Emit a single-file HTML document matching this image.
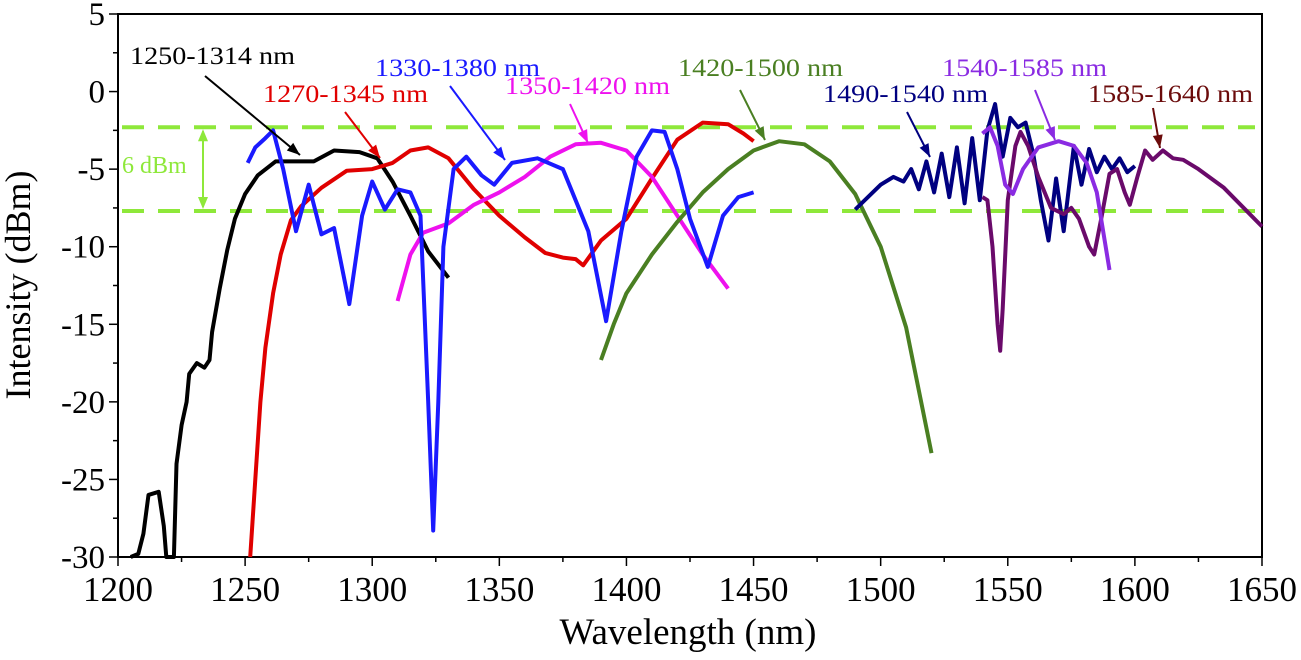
<!DOCTYPE html>
<html><head><meta charset="utf-8"><style>
body{margin:0;background:#fff}
svg text{font-family:"Liberation Serif",serif}
</style></head><body>
<svg id="chart" width="1301" height="655" viewBox="0 0 1301 655" xmlns="http://www.w3.org/2000/svg">
<g id="axes"></g>
<g id="series"></g>
<g id="annot"></g>
</svg>
<script>
const xTicks=[1200,1250,1300,1350,1400,1450,1500,1550,1600,1650];
const yTicks=[5,0,-5,-10,-15,-20,-25,-30];
const blackS=[[1205,-30],[1208,-29.8],[1210,-28.5],[1212,-26],[1216,-25.8],[1218,-28],[1219,-30],[1222,-30],[1223,-24],[1225,-21.5],[1227,-20],[1228,-18.2],[1231,-17.5],[1234,-17.8],[1236,-17.3],[1237,-15.5],[1240,-12.7],[1243,-10.2],[1246,-8.2],[1250,-6.6],[1255,-5.4],[1262,-4.5],[1270,-4.5],[1277,-4.5],[1285,-3.8],[1295,-3.9],[1302,-4.3],[1308,-5.8],[1315,-8],[1322,-10.3],[1330,-12]];
const redS=[[1252,-30],[1254,-25],[1256,-20],[1258,-16.5],[1261,-13],[1264,-10.5],[1268,-8.3],[1272,-7.4],[1280,-6.2],[1290,-5.1],[1300,-5],[1308,-4.6],[1315,-3.8],[1322,-3.6],[1330,-4.3],[1340,-6.3],[1350,-8],[1360,-9.4],[1368,-10.4],[1375,-10.7],[1380,-10.8],[1383,-11.2],[1390,-9.6],[1400,-8.2],[1410,-5.6],[1420,-3.1],[1430,-2],[1440,-2.1],[1446,-2.7],[1450,-3.2]];
const blueS=[[1251,-4.6],[1254,-3.6],[1258,-3],[1261,-2.5],[1265,-5],[1270,-9],[1275,-6],[1280,-9.2],[1285,-8.8],[1291,-13.7],[1296,-8],[1300,-5.8],[1305,-7.6],[1310,-6.3],[1315,-6.5],[1319,-8],[1322,-20],[1324,-28.3],[1326,-20],[1328,-10],[1332,-5],[1337,-4.2],[1343,-5.4],[1348,-6],[1355,-4.6],[1365,-4.3],[1375,-5],[1385,-9],[1392,-14.8],[1398,-9],[1404,-4.2],[1410,-2.5],[1415,-2.6],[1420,-5],[1425,-8.2],[1432,-11.3],[1438,-8],[1444,-6.8],[1450,-6.5]];
const magentaS=[[1310,-13.5],[1315,-10.5],[1320,-9.1],[1330,-8.5],[1340,-7.3],[1350,-6.5],[1360,-5.5],[1370,-4.2],[1380,-3.4],[1390,-3.3],[1400,-3.8],[1410,-5.5],[1420,-8],[1430,-10.5],[1440,-12.7]];
const greenS=[[1390,-17.3],[1395,-15],[1400,-13],[1410,-10.5],[1420,-8.4],[1430,-6.5],[1440,-5],[1450,-3.8],[1460,-3.2],[1470,-3.4],[1480,-4.5],[1490,-6.6],[1500,-10],[1510,-15.2],[1520,-23.3]];
const navyS=[[1490,-7.6],[1500,-6],[1505,-5.5],[1509,-5.8],[1512,-5],[1515,-6.3],[1518,-4.5],[1521,-6.5],[1524,-4],[1527,-6.8],[1530,-3.6],[1533,-7.2],[1536,-3],[1539,-7],[1542,-2.5],[1545,-0.8],[1548,-4.2],[1551,-1.7],[1554,-2.3],[1557,-2],[1560,-4],[1563,-7],[1566,-9.6],[1569,-5.6],[1572,-9],[1576,-3.5],[1579,-6],[1582,-3.7],[1585,-5.2],[1588,-4.2],[1591,-5],[1594,-4.3],[1597,-5.2],[1600,-4.8]];
const purpleS=[[1540,-2.7],[1543,-2.3],[1546,-3.5],[1549,-6],[1552,-6.6],[1556,-5],[1562,-3.6],[1570,-3.2],[1576,-3.5],[1581,-4.6],[1585,-6.5],[1590,-11.5]];
const maroonS=[[1540,-6.8],[1542,-7],[1544,-10],[1546,-15],[1547,-16.7],[1548,-14],[1550,-7],[1553,-3.5],[1555,-2.6],[1558,-3.5],[1562,-5.5],[1567,-7.5],[1572,-7.9],[1575,-7.5],[1578,-8.2],[1582,-10],[1584,-10.5],[1587,-8],[1590,-5.3],[1593,-5],[1596,-6.5],[1598,-7.3],[1601,-5.5],[1604,-3.8],[1607,-4.4],[1611,-3.8],[1615,-4.3],[1619,-4.4],[1625,-5],[1635,-6.2],[1650,-8.7]];
const dashLevels=[-2.3,-7.7];

const X0=118,X1=1262,Y0=14,Y1=557;
const xs=v=>X0+(v-1200)/450*(X1-X0);
const ys=v=>Y0+(5-v)/35*(Y1-Y0);
const NS='http://www.w3.org/2000/svg';
function mk(tag,attrs,parent,text){const e=document.createElementNS(NS,tag);for(const k in attrs)e.setAttribute(k,attrs[k]);if(text!==undefined)e.textContent=text;parent.appendChild(e);return e;}
const axes=document.getElementById('axes');
let f=mk('rect',{x:X0,y:Y0,width:X1-X0,height:Y1-Y0,fill:'none',stroke:'#000','stroke-width':2},axes);

xTicks.forEach(v=>{const x=xs(v);mk('line',{x1:x,x2:x,y1:Y1,y2:Y1+9,stroke:'#000','stroke-width':1.5},axes);
 if(v<1650)mk('line',{x1:xs(v+25),x2:xs(v+25),y1:Y1,y2:Y1+5,stroke:'#000','stroke-width':1.5},axes);
 const t=mk('text',{x:x,y:Y1+44,'text-anchor':'middle','font-size':35},axes,String(v));
 });
yTicks.forEach(v=>{const y=ys(v);mk('line',{x1:X0-9,x2:X0,y1:y,y2:y,stroke:'#000','stroke-width':1.5},axes);
 if(v>-30)mk('line',{x1:X0-5,x2:X0,y1:ys(v-2.5),y2:ys(v-2.5),stroke:'#000','stroke-width':1.5},axes);
 const t=mk('text',{x:X0-13,y:y+11,'text-anchor':'end','font-size':33},axes,String(v));
 });
let xt=mk('text',{x:688,y:644,'text-anchor':'middle','font-size':37},axes,'Wavelength (nm)');

let yt=mk('text',{x:0,y:0,'text-anchor':'middle','font-size':36,transform:'translate(30,285) rotate(-90)'},axes,'Intensity (dBm)');


const ser=document.getElementById('series');
dashLevels.forEach(l=>{const d=mk('line',{x1:122,x2:1255,y1:ys(l),y2:ys(l),stroke:'#8ee83a','stroke-width':4,'stroke-dasharray':'22 14'},ser);
 });
const list=[[blackS,'#000','series-1250-1314'],[redS,'#e00000','series-1270-1345'],[magentaS,'#ee11ee','series-1350-1420'],[greenS,'#4a7f22','series-1420-1500'],[blueS,'#1a1aff','series-1330-1380'],[navyS,'#000080','series-1490-1540'],[maroonS,'#6a0a6a','series-1585-1640'],[purpleS,'#8a2be2','series-1540-1585']];
list.forEach(([d,c,n])=>{const p=mk('polyline',{points:d.map(q=>xs(q[0]).toFixed(1)+','+ys(q[1]).toFixed(1)).join(' '),fill:'none',stroke:c,'stroke-width':4,'stroke-linejoin':'round'},ser);
 });

const an=document.getElementById('annot');
const labels=[['1250-1314 nm','#000',130,64,205,76,300,155],['1270-1345 nm','#e00000',263,102,345,112,380,158],['1330-1380 nm','#1a1aff',375,76,450,86,505,160],['1350-1420 nm','#ee11ee',505,94,570,104,588,143],['1420-1500 nm','#4a7f22',678,76,740,90,765,140],['1490-1540 nm','#000080',823,102,907,112,930,157],['1540-1585 nm','#8a2be2',942,76,1035,90,1055,140],['1585-1640 nm','#6b0b0b',1088,102,1153,108,1160,148]];
labels.forEach(([t,c,x,y,ax,ay,bx,by])=>{
 const e=mk('text',{x:x,y:y,'font-size':25,fill:c,textLength:165,lengthAdjust:'spacingAndGlyphs'},an,t);
 
 mk('line',{x1:ax,y1:ay,x2:bx,y2:by,stroke:c,'stroke-width':2},an);
 const a=Math.atan2(by-ay,bx-ax),L=13,W=5;
 const p1=[bx-L*Math.cos(a)+W*Math.sin(a),by-L*Math.sin(a)-W*Math.cos(a)],p2=[bx-L*Math.cos(a)-W*Math.sin(a),by-L*Math.sin(a)+W*Math.cos(a)];
 mk('polygon',{points:`${bx},${by} ${p1} ${p2}`,fill:c},an);});
const g='#8ee83a';
mk('line',{x1:203,x2:203,y1:ys(-2.3)+4,y2:ys(-7.7)-4,stroke:g,'stroke-width':2},an);
mk('polygon',{points:`203,${ys(-2.3)+2} 198,${ys(-2.3)+14} 208,${ys(-2.3)+14}`,fill:g},an);
mk('polygon',{points:`203,${ys(-7.7)-2} 198,${ys(-7.7)-14} 208,${ys(-7.7)-14}`,fill:g},an);
const dl=mk('text',{x:122,y:173,'font-size':24,fill:g},an,'6 dBm');

</script>
</body></html>
